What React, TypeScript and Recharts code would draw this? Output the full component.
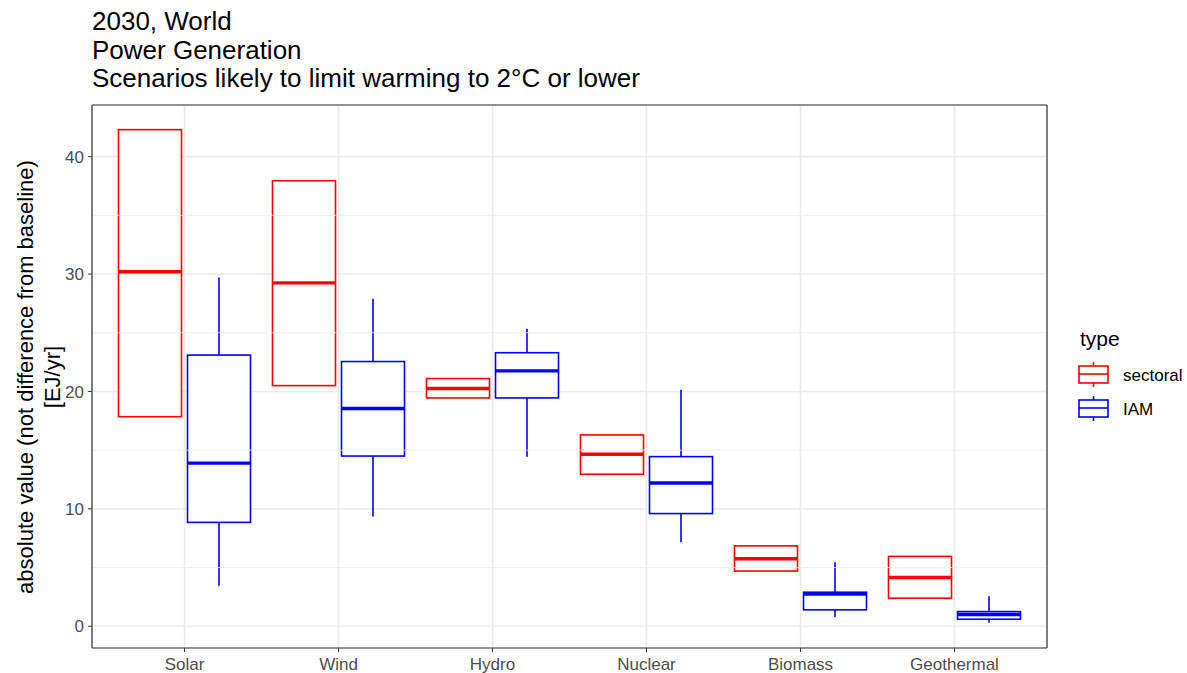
import React from 'react';
import {
  ComposedChart,
  Bar,
  XAxis,
  YAxis,
  CartesianGrid,
  ReferenceLine,
} from 'recharts';

const categories = ['Solar', 'Wind', 'Hydro', 'Nuclear', 'Biomass', 'Geothermal'];

// sectoral boxes have no whiskers (min = q1, max = q3)
const sectoralMin = [17.85, 20.5, 19.45, 12.95, 4.7, 2.4];
const sectoralQ1 = [17.85, 20.5, 19.45, 12.95, 4.7, 2.4];
const sectoralMedian = [30.2, 29.25, 20.25, 14.65, 5.75, 4.15];
const sectoralQ3 = [42.3, 37.95, 21.1, 16.3, 6.85, 5.95];
const sectoralMax = [42.3, 37.95, 21.1, 16.3, 6.85, 5.95];

const iamMin = [3.45, 9.35, 14.45, 7.15, 0.8, 0.3];
const iamQ1 = [8.85, 14.5, 19.45, 9.6, 1.4, 0.6];
const iamMedian = [13.9, 18.55, 21.75, 12.2, 2.75, 1.0];
const iamQ3 = [23.1, 22.55, 23.3, 14.45, 2.9, 1.25];
const iamMax = [29.7, 27.9, 25.35, 20.15, 5.45, 2.55];

const yTicks = [0, 10, 20, 30, 40];
const yMinorTicks = [5, 15, 25, 35];
const yDomain = [-1.85, 44.4];

const titleLines = ['2030, World', 'Power Generation', 'Scenarios likely to limit warming to 2°C or lower'];

const SECTORAL = '#FF0000';
const IAM = '#0000FF';
const FONT = '"Liberation Sans", Arial, sans-serif';

type Stats = { min: number; q1: number; median: number; q3: number; max: number };

const data = categories.map((cat, i) => ({
  cat,
  sectoral: {
    min: sectoralMin[i],
    q1: sectoralQ1[i],
    median: sectoralMedian[i],
    q3: sectoralQ3[i],
    max: sectoralMax[i],
  },
  iam: {
    min: iamMin[i],
    q1: iamQ1[i],
    median: iamMedian[i],
    q3: iamQ3[i],
    max: iamMax[i],
  },
}));

// the bar spans [min, max]; inner positions are mapped linearly inside that span
const BoxShape = (props: any) => {
  const { x, y, width, height, payload, seriesKey, color } = props;
  const stats: Stats = payload[seriesKey];
  const top = Math.min(y, y + height);
  const h = Math.abs(height);
  const span = stats.max - stats.min;
  const py = (v: number) => (span === 0 ? top : top + (h * (stats.max - v)) / span);
  const cx = x + width / 2;
  return (
    <g>
      <line x1={cx} x2={cx} y1={py(stats.max)} y2={py(stats.q3)} stroke={color} strokeWidth={1.6} />
      <line x1={cx} x2={cx} y1={py(stats.q1)} y2={py(stats.min)} stroke={color} strokeWidth={1.6} />
      <rect
        x={x}
        y={py(stats.q3)}
        width={width}
        height={py(stats.q1) - py(stats.q3)}
        fill="#FFFFFF"
        stroke={color}
        strokeWidth={1.6}
      />
      <line x1={x} x2={x + width} y1={py(stats.median)} y2={py(stats.median)} stroke={color} strokeWidth={3.4} />
    </g>
  );
};

const LegendGlyph = ({ y, color }: { y: number; color: string }) => (
  <g>
    <line x1={1093.5} x2={1093.5} y1={y - 12} y2={y + 13} stroke={color} strokeWidth={1.6} />
    <rect x={1079} y={y - 8} width={29} height={17} fill="#FFFFFF" stroke={color} strokeWidth={1.6} />
    <line x1={1079} x2={1108} y1={y} y2={y} stroke={color} strokeWidth={1.6} />
  </g>
);

const tickStyle = { fill: '#4D4D4D', fontSize: 17, fontFamily: FONT };
const border = { stroke: '#333333', strokeWidth: 1.2 };

export default function App() {
  return (
    <div style={{ position: 'absolute', left: 0, top: 0, width: 1187, height: 673, background: '#FFFFFF' }}>
      <div style={{ position: 'absolute', left: 92, top: 7, fontFamily: FONT, fontSize: 26, lineHeight: '28.5px', color: '#000' }}>
        {titleLines.map((t) => (
          <div key={t}>{t}</div>
        ))}
      </div>

      <div style={{ position: 'absolute', left: 0, top: 0 }}>
        <ComposedChart
          width={1187}
          height={673}
          data={data}
          margin={{ top: 104, right: 139, bottom: 0, left: 0 }}
          barCategoryGap={11}
          barGap={6}
        >
          <CartesianGrid stroke="#EBEBEB" strokeWidth={1.6} />
          {yMinorTicks.map((v) => (
            <ReferenceLine key={v} y={v} stroke="#EBEBEB" strokeWidth={0.8} />
          ))}
          <XAxis
            dataKey="cat"
            height={25}
            padding={{ left: 15.5, right: 15.5 }}
            tickSize={4}
            tickMargin={6}
            axisLine={border}
            tickLine={{ stroke: '#333333' }}
            tick={tickStyle}
            interval={0}
          />
          <XAxis
            xAxisId="top"
            dataKey="cat"
            orientation="top"
            height={1}
            tick={false}
            tickLine={false}
            axisLine={border}
          />
          <YAxis
            width={92}
            type="number"
            domain={yDomain}
            ticks={yTicks}
            allowDataOverflow
            tickSize={4}
            tickMargin={4}
            axisLine={border}
            tickLine={{ stroke: '#333333' }}
            tick={tickStyle}
          />
          <YAxis
            yAxisId="right"
            orientation="right"
            width={1}
            type="number"
            domain={yDomain}
            tick={false}
            tickLine={false}
            axisLine={border}
          />
          <Bar
            name="sectoral"
            dataKey={(d: any) => [d.sectoral.min, d.sectoral.max]}
            isAnimationActive={false}
            shape={(p: any) => <BoxShape {...p} seriesKey="sectoral" color={SECTORAL} />}
          />
          <Bar
            name="IAM"
            dataKey={(d: any) => [d.iam.min, d.iam.max]}
            isAnimationActive={false}
            shape={(p: any) => <BoxShape {...p} seriesKey="iam" color={IAM} />}
          />
        </ComposedChart>
      </div>

      <svg width={1187} height={673} style={{ position: 'absolute', left: 0, top: 0, pointerEvents: 'none' }}>
        <g fontFamily={FONT} fill="#000">
          <text x={25} y={377} fontSize={22} textAnchor="middle" dominantBaseline="central" transform="rotate(-90 25 377)">
            absolute value (not difference from baseline)
          </text>
          <text x={52} y={377} fontSize={22} textAnchor="middle" dominantBaseline="central" transform="rotate(-90 52 377)">
            [EJ/yr]
          </text>
          <text x={1080} y={338} fontSize={21} dominantBaseline="central">
            type
          </text>
          <text x={1123} y={375} fontSize={17} dominantBaseline="central">
            sectoral
          </text>
          <text x={1123} y={409} fontSize={17} dominantBaseline="central">
            IAM
          </text>
        </g>
        <LegendGlyph y={374} color={SECTORAL} />
        <LegendGlyph y={408} color={IAM} />
      </svg>
    </div>
  );
}
